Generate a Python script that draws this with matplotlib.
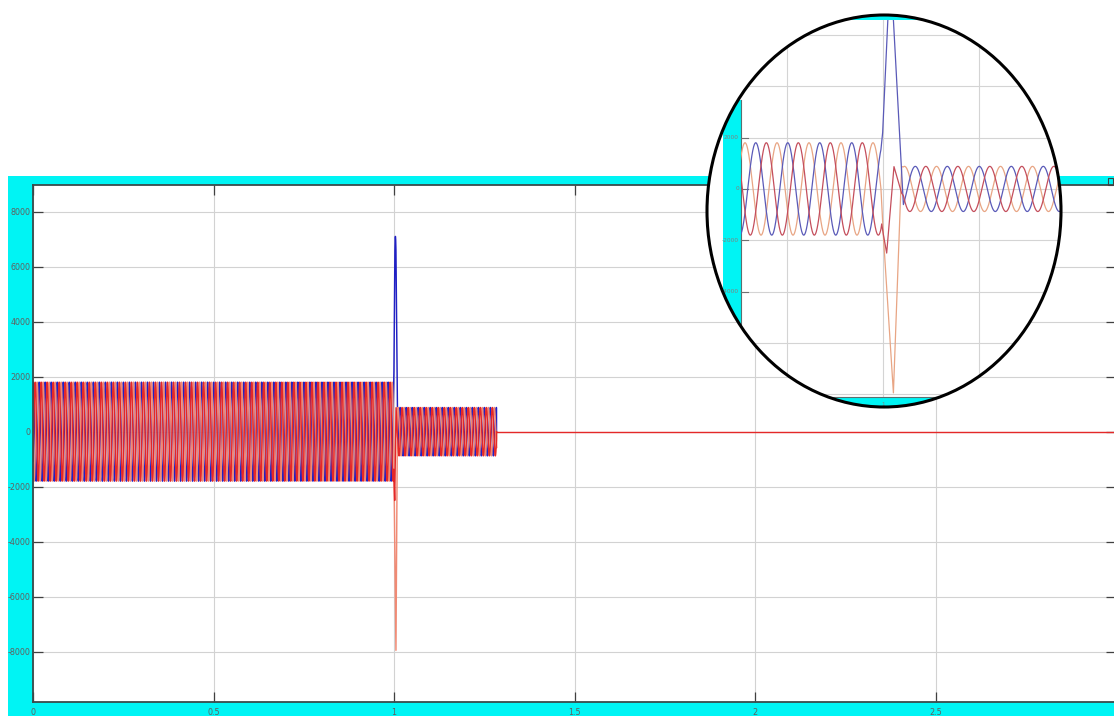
import numpy as np
import matplotlib.pyplot as plt
from matplotlib.patches import Ellipse, Rectangle
from matplotlib.transforms import Bbox, TransformedBbox

# Three phase current record: phase A (orange), B (blue), C (red)
freq = 60.0
amp_pre = 1800
amp_post = 880
t_clear = 1.284
t_stop = 3.0

main_colors = ["#f08a74", "#2020c4", "#e42828"]
zoom_colors = ["#e8a584", "#5a5ab8", "#c44e5c"]
draw_order = [1, 0, 2]

# instant of a positive peak of each phase, before and after the fault
peak_pre = [0.9281, 0.9337, 0.9392]
peak_post = [1.0112, 1.0168, 1.0223]
end_pre = [0.9990, 0.9990, 0.9990]
start_post = [1.0106, 1.0106, 1.0106]

# fault transient, point by point
fault_t = [
    [1.0002, 1.0054, 1.0097],
    [0.9998, 1.0025, 1.0032, 1.0039, 1.0046, 1.0054],
    [0.9993, 1.0002, 1.0019, 1.0057, 1.0097],
]
fault_v = [
    [-1860, -7950, 870],
    [2200, 6590, 7000, 7100, 7000, 6590],
    [-1365, -1790, -2500, 870, -170],
]

y_ticks = [-8000, -6000, -4000, -2000, 0, 2000, 4000, 6000, 8000]
x_ticks = [0, 0.5, 1, 1.5, 2, 2.5]
x_labels = ["0", "0.5", "1", "1.5", "2", "2.5"]

zoom_xlim = (0.9083, 1.0927)
zoom_ylim = (-8500, 6780)
zoom_area = (0.926, -8110, 6590)   # left edge, bottom, top of the zoomed plot
zoom_yticks = [-4000, -2000, 0, 2000]

dt = 1e-4
cyan = "#00f4f4"


def phase_wave(i):
    w = 2 * np.pi * freq
    t1 = np.arange(0, end_pre[i], dt)
    v1 = amp_pre * np.cos(w * (t1 - peak_pre[i]))
    t2 = np.arange(start_post[i], t_clear, dt)
    v2 = amp_post * np.cos(w * (t2 - peak_post[i]))
    t = np.concatenate([t1, fault_t[i], t2, [t_clear]])
    v = np.concatenate([v1, fault_v[i], v2, [0]])
    return t, v


waves = [phase_wave(i) for i in range(3)]

W, H = 1114, 716
fig = plt.figure(figsize=(W / 100, H / 100), dpi=100)
fig.patch.set_facecolor("white")

# scope window background
fig.add_artist(Rectangle((8 / W, 0), 1 - 8 / W, (H - 176) / H,
                         transform=fig.transFigure, facecolor=cyan, edgecolor="none", zorder=0))
fig.add_artist(Rectangle((1108 / W, (H - 185) / H), 5 / W, 7 / H, transform=fig.transFigure,
                         facecolor="none", edgecolor="#404040", lw=0.8, zorder=1))

ax = fig.add_axes([33 / W, (H - 702) / H, (1116 - 33) / W, (702 - 185) / H])
ax.set_facecolor("white")
for i in draw_order:
    t, v = waves[i]
    ax.plot(t, v, color=main_colors[i], lw=1.05)
# after the breaker opens every phase sits on zero; the last trace covers the others
ax.plot([t_clear, t_stop], [0, 0], color=main_colors[2], lw=1.0)
ax.set_xlim(0, 3)
ax.set_ylim(-9830, 8970)
ax.set_xticks(x_ticks)
ax.set_xticklabels(x_labels)
ax.set_yticks(y_ticks)
ax.set_yticklabels([str(y) for y in y_ticks])
ax.grid(color="#d2d2d2", lw=0.8)
ax.set_axisbelow(True)
ax.tick_params(direction="in", length=7, width=0.9, color="#404040", labelsize=5.8,
               labelcolor="#606060", top=True, right=True)
ax.tick_params(axis="y", pad=1.5)
ax.tick_params(axis="x", pad=4)
for s in ax.spines.values():
    s.set_color("#3a4a4a")
    s.set_linewidth(1.3)

# magnified view of the fault instant
ex0, ex1, ey0, ey1 = 707, 1061, 15, 407
axz = fig.add_axes([ex0 / W, (H - ey1) / H, (ex1 - ex0) / W, (ey1 - ey0) / H])
axz.set_xlim(zoom_xlim)
axz.set_ylim(zoom_ylim)
axz.axis("off")

clip = Ellipse((0.5, 0.5), 1, 1, transform=axz.transAxes)
left, bottom, top = zoom_area
area = TransformedBbox(Bbox([[left, bottom], [2.0, top]]), axz.transData)
px_t = (zoom_xlim[1] - zoom_xlim[0]) / (ex1 - ex0)


def clipped(artist, box=False):
    artist.set_clip_path(clip)
    if box:
        artist.set_clip_box(area)
    return artist


axz.add_patch(Ellipse((0.5, 0.5), 1, 1, transform=axz.transAxes,
                      facecolor="white", edgecolor="none", zorder=0))
# scope frame inside the magnifier
clipped(axz.add_patch(Rectangle((left - 18 * px_t, zoom_ylim[0]), 18 * px_t, 3470 - zoom_ylim[0],
                                facecolor=cyan, edgecolor="none", zorder=1)))
clipped(axz.add_patch(Rectangle((left - 18 * px_t, zoom_ylim[0]), 0.3, bottom - zoom_ylim[0],
                                facecolor=cyan, edgecolor="none", zorder=1)))
clipped(axz.add_patch(Rectangle((left - 18 * px_t, top), 0.3, zoom_ylim[1] - top,
                                facecolor=cyan, edgecolor="none", zorder=1)))

for y in range(-8000, 6001, 2000):
    x0 = left if y < 3470 else zoom_xlim[0]
    clipped(axz.plot([x0, zoom_xlim[1]], [y, y], color="#d4d4d4", lw=0.8, zorder=2)[0])
for x in [0.95, 1.0, 1.05]:
    clipped(axz.plot([x, x], [bottom, top], color="#d4d4d4", lw=0.8, zorder=2)[0])
clipped(axz.plot([left, left], [bottom, 3470], color="#5a7070", lw=0.8, zorder=3)[0])
clipped(axz.plot([left, zoom_xlim[1]], [bottom, bottom], color="#5a7070", lw=0.8, zorder=3)[0])
for y in zoom_yticks:
    clipped(axz.plot([left, left + 7 * px_t], [y, y], color="#707070", lw=0.8, zorder=3)[0])
    clipped(axz.text(left - 2 * px_t, y, str(y), ha="right", va="center",
                     fontsize=4.2, color="#808080", zorder=3))
clipped(axz.text(1.0, bottom - 200, "1", ha="center", va="top", fontsize=4, color="#808080", zorder=3))

for i in range(3):
    t, v = waves[i]
    clipped(axz.plot(t, v, color=zoom_colors[i], lw=0.9, zorder=4)[0], box=True)

axz.add_patch(Ellipse((0.5, 0.5), 1, 1, transform=axz.transAxes, facecolor="none",
                      edgecolor="black", lw=2.2, clip_on=False, zorder=10))

fig.savefig("out.png", dpi=100)
